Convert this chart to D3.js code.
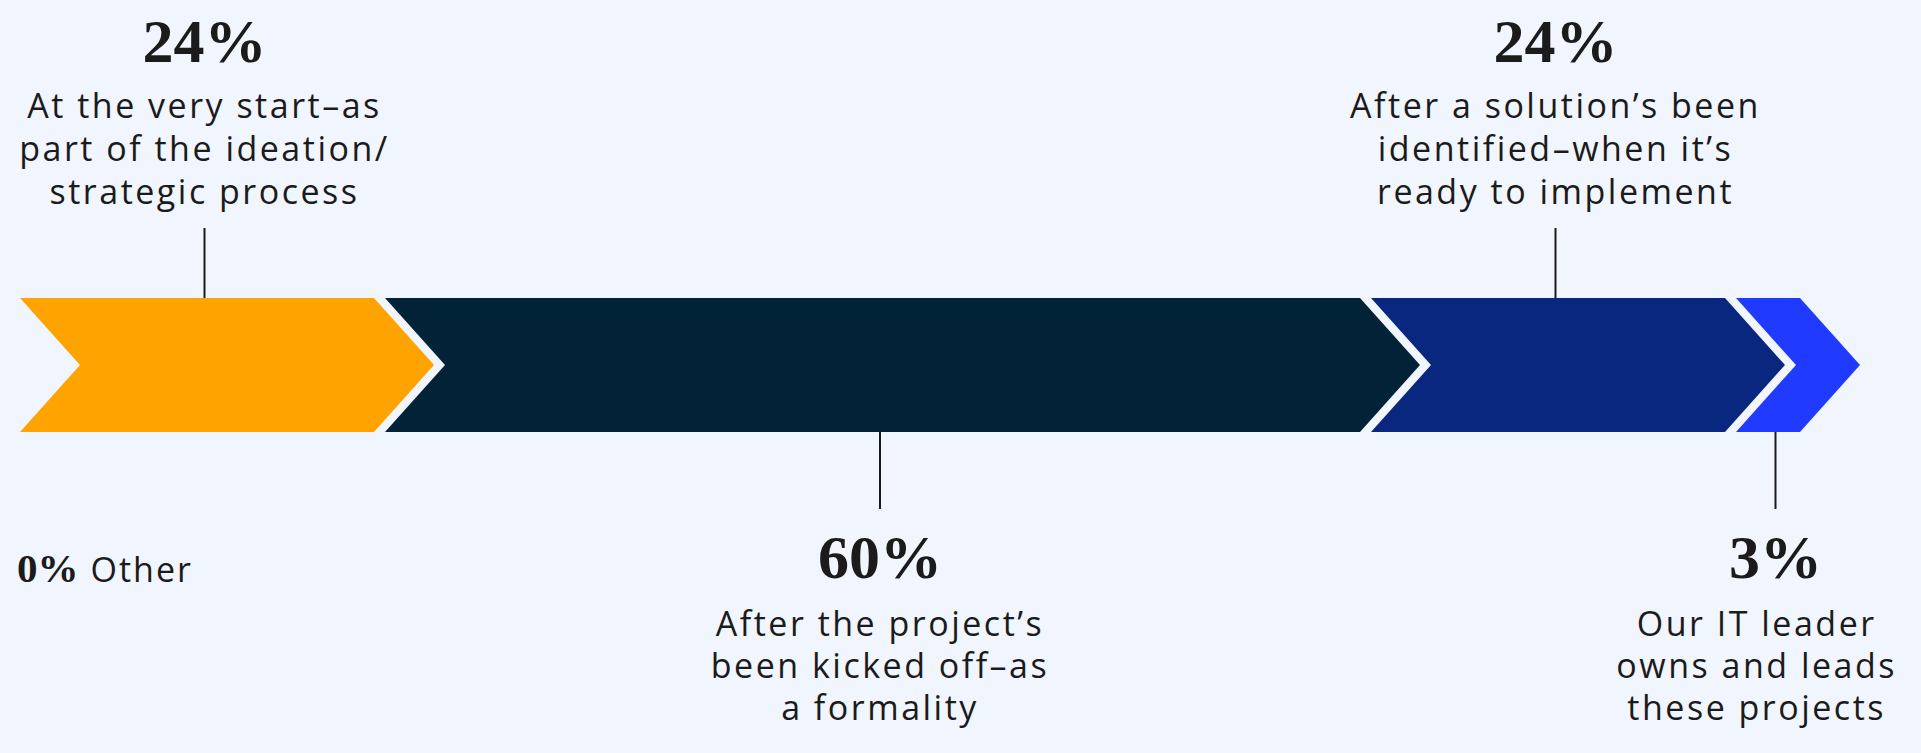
<!DOCTYPE html>
<html>
<head>
<meta charset="utf-8">
<script src="https://cdn.jsdelivr.net/npm/d3@7"></script>
<style>
  html, body { margin: 0; padding: 0; background: #F1F5FD; }
  svg { display: block; }
</style>
</head>
<body>
<div id="chart"></div>
<script>
// ---- data ----
const categories = [
  "At the very start–as part of the ideation/strategic process",
  "After the project’s been kicked off–as a formality",
  "After a solution’s been identified–when it’s ready to implement",
  "Our IT leader owns and leads these projects"
];
const labelLines = [
  ["At the very start–as", "part of the ideation/", "strategic process"],
  ["After the project’s", "been kicked off–as", "a formality"],
  ["After a solution’s been", "identified–when it’s", "ready to implement"],
  ["Our IT leader", "owns and leads", "these projects"]
];
const values = [24, 60, 24, 3];
const otherLabel = "Other";
const otherValue = 0;

// ---- styles ----
const palette = ["#FFA300", "#022337", "#0A2780", "#203AFF"];
const W = 1921, H = 753;
const bandTop = 298, bandBottom = 432, depth = 60, gap = 11, startX = 20, minW = 124;
const textColor = "#1b1b1b";
const serif = "'Liberation Serif', 'Times New Roman', serif";
const sans = "'Open Sans', 'Noto Sans', sans-serif";

const svg = d3.select("#chart").append("svg")
  .attr("width", W).attr("height", H);
svg.append("rect").attr("width", W).attr("height", H).attr("fill", "#F1F5FD");

const wScale = d3.scaleLinear().domain([0, d3.max(values)]).range([0, 1035]);
const yScale = d3.scaleLinear().domain([0, 1]).range([bandTop, bandBottom]);
const fmt = d => d3.format(".0%")(d / 100);

let cursor = startX;
const segs = values.map((v, i) => {
  const w = Math.max(wScale(v), minW);
  const s = { i, v, x: cursor, w, side: i % 2 === 0 ? "top" : "bottom" };
  cursor = cursor + w - depth + gap;
  return s;
});

const yT = yScale(0), yB = yScale(1), yM = yScale(0.5);
svg.selectAll("path.seg").data(segs).join("path")
  .attr("class", "seg")
  .attr("fill", d => palette[d.i])
  .attr("d", d => {
    const p = d3.path();
    p.moveTo(d.x, yT);
    p.lineTo(d.x + d.w - depth, yT);
    p.lineTo(d.x + d.w, yM);
    p.lineTo(d.x + d.w - depth, yB);
    p.lineTo(d.x, yB);
    p.lineTo(d.x + depth, yM);
    p.closePath();
    return p.toString();
  });

segs.forEach(d => {
  const cx = d.x + (d.w - depth) / 2 + depth / 8;
  const g = svg.append("g");
  if (d.side === "top") {
    g.append("line").attr("x1", cx).attr("x2", cx).attr("y1", 228).attr("y2", yT)
      .attr("stroke", textColor).attr("stroke-width", 2);
    g.append("text").attr("x", cx).attr("y", 62).attr("text-anchor", "middle")
      .attr("font-family", serif).attr("font-weight", 700).attr("font-size", 62)
      .attr("fill", textColor).text(fmt(d.v));
    const t = g.append("text").attr("text-anchor", "middle")
      .attr("font-family", sans).attr("font-size", 34).attr("letter-spacing", 2.5)
      .attr("fill", textColor);
    labelLines[d.i].forEach((ln, k) => {
      t.append("tspan").attr("x", cx).attr("y", 118 + k * 43).text(ln);
    });
  } else {
    g.append("line").attr("x1", cx).attr("x2", cx).attr("y1", yB).attr("y2", 509)
      .attr("stroke", textColor).attr("stroke-width", 2);
    g.append("text").attr("x", cx).attr("y", 578).attr("text-anchor", "middle")
      .attr("font-family", serif).attr("font-weight", 700).attr("font-size", 62)
      .attr("fill", textColor).text(fmt(d.v));
    const t = g.append("text").attr("text-anchor", "middle")
      .attr("font-family", sans).attr("font-size", 34).attr("letter-spacing", 2.5)
      .attr("fill", textColor);
    const spans = labelLines[d.i].map((ln, k) =>
      t.append("tspan").attr("x", cx).attr("y", 636 + k * 42).text(ln));
    const maxLen = d3.max(spans, s => s.node().getComputedTextLength());
    const tx = Math.min(cx, W - 24 - maxLen / 2);
    spans.forEach(s => s.attr("x", tx));
  }
});

// "Other" note
const o = svg.append("text").attr("x", 17).attr("y", 582).attr("fill", textColor);
o.append("tspan").attr("font-family", serif).attr("font-weight", 700).attr("font-size", 41)
  .text(fmt(otherValue));
o.append("tspan").attr("font-family", sans).attr("font-size", 34).attr("dx", 12)
  .attr("letter-spacing", 2).text(otherLabel);
</script>
</body>
</html>
